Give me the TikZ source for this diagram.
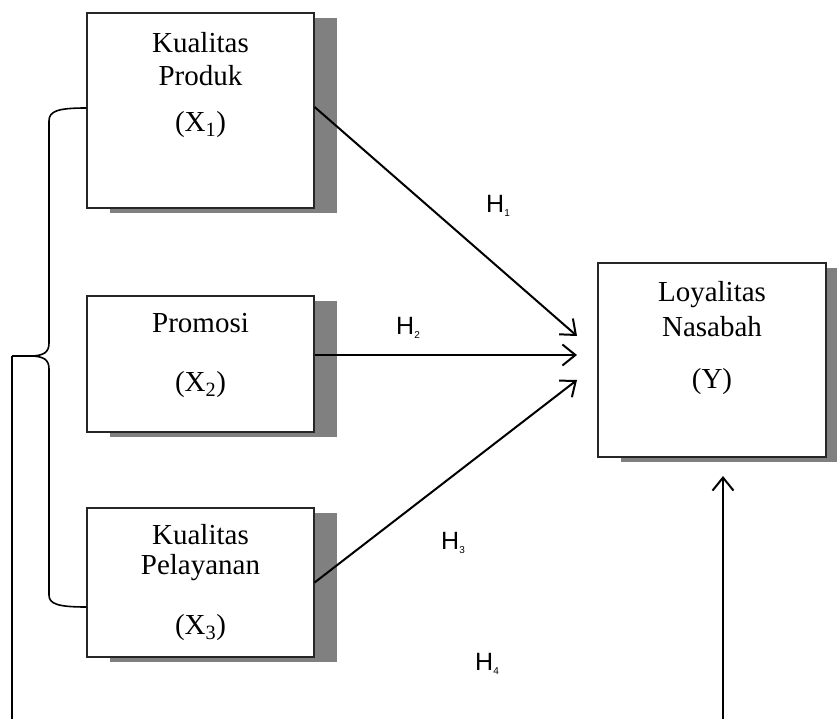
\documentclass[tikz,border=0pt]{standalone}
\usepackage{fontspec}
\setmainfont{Liberation Serif}
\newfontfamily\hfont{Liberation Sans}
\usetikzlibrary{shadows,arrows.meta}
\tikzset{
  box/.style={draw=black!85, line width=1.2pt, fill=white, rectangle, inner sep=0pt,
    drop shadow={shadow xshift=23pt, shadow yshift=-5pt, fill=black!50, opacity=1}},
  txt/.style={inner sep=0pt, font=\fontsize{29}{33}\selectfont},
  hlab/.style={inner sep=0pt, font=\hfont\fontsize{25}{27}\selectfont},
  conn/.style={line width=2pt, -{Straight Barb[length=13pt,width=21pt,line width=2pt]}},
  brace/.style={line width=1.6pt}
}
\newcommand{\hsub}[1]{\raisebox{-4pt}{\fontsize{10}{10}\selectfont #1}}
\begin{document}
\begin{tikzpicture}[x=1pt,y=-1pt]
\useasboundingbox (0,0) rectangle (837,719);
% boxes
\node[box, minimum width=227pt, minimum height=195pt] (p1) at (200.5,110.5) {};
\node[box, minimum width=227pt, minimum height=136pt] (p2) at (200.5,364) {};
\node[box, minimum width=227pt, minimum height=149pt] (p3) at (200.5,582.5) {};
\node[box, minimum width=228pt, minimum height=194pt] (y) at (712,360) {};
% box texts
\node[txt] (p1a) at (200.5,43) {Kualitas};
\node[txt] (p1b) at (200.5,76) {Produk};
\node[txt] (p1c) at (200.5,125) {(X\textsubscript{1})};
\node[txt] (p2a) at (200.5,323) {Promosi};
\node[txt] (p2c) at (200.5,385) {(X\textsubscript{2})};
\node[txt] (p3a) at (200.5,535) {Kualitas};
\node[txt] (p3b) at (200.5,568) {Pelayanan};
\node[txt] (p3c) at (200.5,628) {(X\textsubscript{3})};
\node[txt] (ya) at (712,295) {Loyalitas};
\node[txt] (yb) at (712,327) {Nasabah};
\node[txt] (yc) at (712,382) {(Y)};
% hypothesis labels
\node[hlab] (h1) at (498,206) {H\hsub{1}};
\node[hlab] (h2) at (408,328) {H\hsub{2}};
\node[hlab] (h3) at (453,543) {H\hsub{3}};
\node[hlab] (h4) at (487,664) {H\hsub{4}};
% arrow tips
\coordinate (t1) at (577,336);
\coordinate (t2) at (577,355);
\coordinate (t3) at (577,380);
\coordinate (t4) at (723,476);
\coordinate (b4) at (723,719);
\draw[conn] (p1.east |- 0,107) -- (t1);
\draw[conn] (p2.east |- t2) -- (t2);
\draw[conn] (p3.east) -- (t3);
\draw[conn] (b4) -- (t4);
% brace
\coordinate (bt) at (12,356);
\coordinate (bb) at (12,719);
\draw[brace] (p1.west |- 0,108) .. controls (58,108) and (49,111) .. (49,121) -- (49,343)
  .. controls (49,352) and (44,356) .. (30,356) -- (bt);
\draw[brace] (30,356) .. controls (44,356) and (49,360) .. (49,369) -- (49,595)
  .. controls (49,604) and (58,607) .. (p3.west |- 0,607);
\draw[brace] (bt) -- (bb);
\end{tikzpicture}
\end{document}
